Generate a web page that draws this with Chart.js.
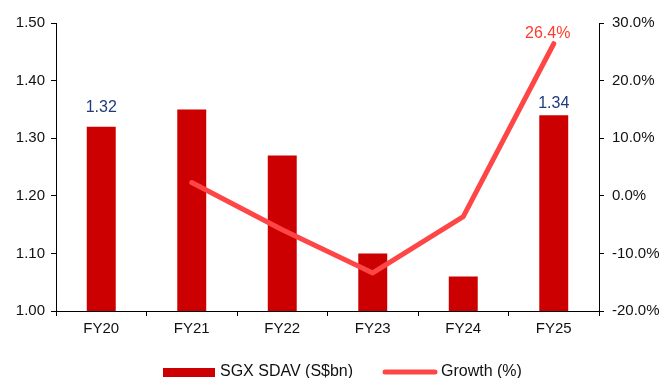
<!DOCTYPE html>
<html>
<head>
<meta charset="utf-8">
<script src="https://cdn.jsdelivr.net/npm/chart.js@4/dist/chart.umd.min.js"></script>
<style>
  html, body { margin: 0; padding: 0; background: #fff; }
  #wrap { width: 664px; height: 378px; }
</style>
</head>
<body>
<div id="wrap"><canvas id="c" width="664" height="378"></canvas></div>
<script>
const categories = ['FY20', 'FY21', 'FY22', 'FY23', 'FY24', 'FY25'];
const sdav = [1.32, 1.35, 1.27, 1.10, 1.06, 1.34];          // S$bn
const growth = [null, 2.3, -5.9, -13.4, -3.6, 26.4];          // %
const labelledBars = [0, 5];
const labelledPoints = [5];

const FONT = '"Liberation Sans", Arial, sans-serif';
const BAR_COLOR = '#CC0000';
const LINE_COLOR = '#FF4646';
// distance from bar top to label baseline, per labelled bar
const barLabelGap = { 0: 15, 5: 7 };

const extras = {
  id: 'extras',
  afterDatasetsDraw(chart) {
    const ctx = chart.ctx;
    ctx.save();
    ctx.font = '16px ' + FONT;
    ctx.textAlign = 'center';
    ctx.textBaseline = 'alphabetic';
    const barMeta = chart.getDatasetMeta(0);
    ctx.fillStyle = '#1F3A7D';
    labelledBars.forEach(i => {
      const el = barMeta.data[i];
      ctx.fillText(sdav[i].toFixed(2), el.x, el.y - barLabelGap[i]);
    });
    const lineMeta = chart.getDatasetMeta(1);
    ctx.fillStyle = '#FF3B2B';
    labelledPoints.forEach(i => {
      const el = lineMeta.data[i];
      ctx.fillText(growth[i].toFixed(1) + '%', el.x - 6, el.y - 6);
    });

    // legend
    const ly = 372;
    ctx.fillStyle = BAR_COLOR;
    ctx.fillRect(163, ly - 4, 52, 9);
    ctx.strokeStyle = LINE_COLOR;
    ctx.lineWidth = 5;
    ctx.lineCap = 'round';
    ctx.beginPath();
    ctx.moveTo(385, ly);
    ctx.lineTo(435, ly);
    ctx.stroke();
    ctx.fillStyle = '#111';
    ctx.textAlign = 'left';
    ctx.textBaseline = 'middle';
    ctx.font = '16px ' + FONT;
    ctx.fillText(chart.data.datasets[0].label, 220, ly);
    ctx.fillText(chart.data.datasets[1].label, 441, ly);
    ctx.restore();
  }
};

new Chart(document.getElementById('c'), {
  data: {
    labels: categories,
    datasets: [
      {
        type: 'bar',
        label: 'SGX SDAV (S$bn)',
        data: sdav,
        backgroundColor: BAR_COLOR,
        yAxisID: 'y',
        barPercentage: 0.64,
        categoryPercentage: 0.5,
        order: 2
      },
      {
        type: 'line',
        label: 'Growth (%)',
        data: growth,
        borderColor: LINE_COLOR,
        backgroundColor: LINE_COLOR,
        borderWidth: 5,
        borderCapStyle: 'round',
        borderJoinStyle: 'round',
        pointRadius: 0,
        tension: 0,
        yAxisID: 'y1',
        order: 1
      }
    ]
  },
  options: {
    responsive: false,
    animation: false,
    layout: { padding: { top: 23, bottom: 40, left: 0, right: 0 } },
    plugins: { legend: { display: false }, tooltip: { enabled: false } },
    scales: {
      x: {
        offset: true,
        grid: { display: true, offset: true, drawOnChartArea: false, color: '#000', tickLength: 5 },
        border: { color: '#000', width: 1 },
        ticks: { color: '#111', font: { family: FONT, size: 15 }, padding: 4, maxRotation: 0 },
        afterFit(s) { s.height = 27; }
      },
      y: {
        position: 'left',
        min: 1.0, max: 1.5,
        ticks: { stepSize: 0.1, color: '#111', font: { family: FONT, size: 15 }, padding: 6,
                 callback: v => Number(v).toFixed(2) },
        grid: { display: true, drawOnChartArea: false, color: '#000', tickLength: 5 },
        border: { color: '#000', width: 1 },
        afterFit(s) { s.width = 56; }
      },
      y1: {
        position: 'right',
        min: -20, max: 30,
        ticks: { stepSize: 10, color: '#111', font: { family: FONT, size: 15 }, padding: 8,
                 callback: v => Number(v).toFixed(1) + '%' },
        grid: { display: true, drawOnChartArea: false, color: '#000', tickLength: 5 },
        border: { color: '#000', width: 1 },
        afterFit(s) { s.width = 65; }
      }
    }
  },
  plugins: [extras]
});
</script>
</body>
</html>
